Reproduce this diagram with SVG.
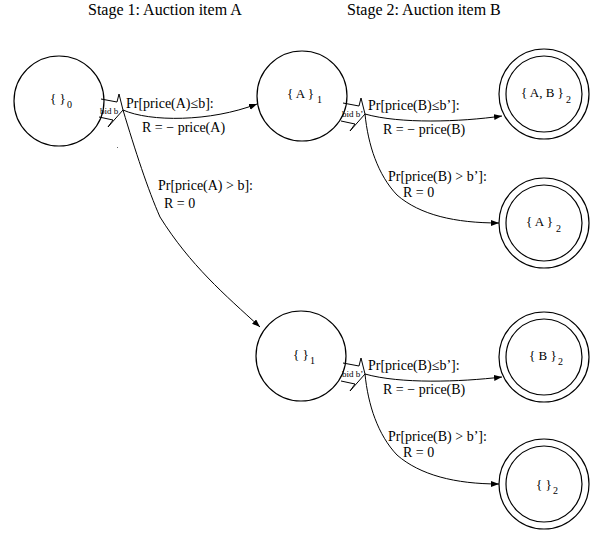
<svg xmlns="http://www.w3.org/2000/svg" width="601" height="537" viewBox="0 0 601 537">
<style>
.st{fill:none;stroke:#000;stroke-width:1.2}
.t{font-family:"Liberation Serif","Times New Roman",serif;fill:#000}
.lab{font-size:14px}
.nd{font-size:13px}
.sub{font-size:10px}
.bid{font-size:9px}
.ed{fill:none;stroke:#000;stroke-width:1}
.ba{fill:#fff;stroke:#000;stroke-width:1;stroke-linejoin:miter}
</style>
<defs>
<marker id="ah" markerUnits="userSpaceOnUse" markerWidth="9" markerHeight="7" refX="8" refY="3" orient="auto">
<path d="M0,0 L8,3 L0,6 z" fill="#000"/>
</marker>
<path id="bidarrow" class="ba" d="M-22,-11 L-6,-8 L-4,-16 L0,0 L-15,17 L-10,10 L-24,7"/>
</defs>
<rect width="601" height="537" fill="#fff"/>
<text class="t" x="88" y="15" font-size="16">Stage 1: Auction item A</text>
<text class="t" x="347" y="15" font-size="16">Stage 2: Auction item B</text>
<rect x="117" y="147" width="1" height="1" fill="#666"/>

<g id="connectors">
<path class="ed" d="M123,110 C150,122 210,122 257,104" marker-end="url(#ah)"/>
<path class="ed" d="M123,110 C135,150 148,190 160,217 C190,265 225,295 260,327" marker-end="url(#ah)"/>
<path class="ed" d="M365,114 C400,124 460,122 502,116" marker-end="url(#ah)"/>
<path class="ed" d="M365,114 C368,145 378,175 397,195 C420,215 455,223 499,223" marker-end="url(#ah)"/>
<path class="ed" d="M365,374 C400,384 460,382 502,377" marker-end="url(#ah)"/>
<path class="ed" d="M365,374 C368,405 378,435 397,455 C420,475 455,484 499,484" marker-end="url(#ah)"/>
<use href="#bidarrow" x="123" y="110"/>
<use href="#bidarrow" x="365" y="114"/>
<use href="#bidarrow" x="365" y="374"/>
<text class="t bid" x="100" y="114">bid b</text>
<text class="t bid" x="342" y="117">bid b’</text>
<text class="t bid" x="342" y="377">bid b’</text>
<text class="t lab" x="126" y="108">Pr[price(A)≤b]:</text>
<text class="t lab" x="142" y="132">R =  − price(A)</text>
<text class="t lab" x="158" y="190">Pr[price(A) &gt; b]:</text>
<text class="t lab" x="164" y="208">R = 0</text>
<text class="t lab" x="368" y="110">Pr[price(B)≤b’]:</text>
<text class="t lab" x="383" y="134">R =  − price(B)</text>
<text class="t lab" x="388" y="181">Pr[price(B) &gt; b’]:</text>
<text class="t lab" x="403" y="197">R = 0</text>
<text class="t lab" x="368" y="370">Pr[price(B)≤b’]:</text>
<text class="t lab" x="383" y="394">R =  − price(B)</text>
<text class="t lab" x="388" y="441">Pr[price(B) &gt; b’]:</text>
<text class="t lab" x="403" y="457">R = 0</text>
</g>

<g id="s0">
<circle class="st" cx="59" cy="101" r="45"/>
<text class="t nd" x="50" y="103">{ }</text><text class="t sub" x="67" y="108">0</text>
</g>
<g id="sA1">
<circle class="st" cx="302" cy="96" r="45"/>
<text class="t nd" x="287" y="98">{ A }</text><text class="t sub" x="317" y="103">1</text>
</g>
<g id="s01">
<circle class="st" cx="301" cy="356" r="45"/>
<text class="t nd" x="293" y="359">{ }</text><text class="t sub" x="310" y="364">1</text>
</g>
<g id="sAB2">
<circle class="st" cx="544" cy="94" r="45"/>
<circle class="st" cx="544" cy="94" r="38"/>
<text class="t nd" x="521" y="97">{ A, B }</text><text class="t sub" x="566" y="103">2</text>
</g>
<g id="sA2">
<circle class="st" cx="544" cy="223" r="45"/>
<circle class="st" cx="544" cy="223" r="38"/>
<text class="t nd" x="526" y="226">{ A }</text><text class="t sub" x="556" y="232">2</text>
</g>
<g id="sB2">
<circle class="st" cx="544" cy="357" r="45"/>
<circle class="st" cx="544" cy="357" r="38"/>
<text class="t nd" x="529" y="360">{ B }</text><text class="t sub" x="558" y="365">2</text>
</g>
<g id="s02">
<circle class="st" cx="544" cy="484" r="45"/>
<circle class="st" cx="544" cy="484" r="38"/>
<text class="t nd" x="536" y="489">{ }</text><text class="t sub" x="553" y="494">2</text>
</g>
</svg>
